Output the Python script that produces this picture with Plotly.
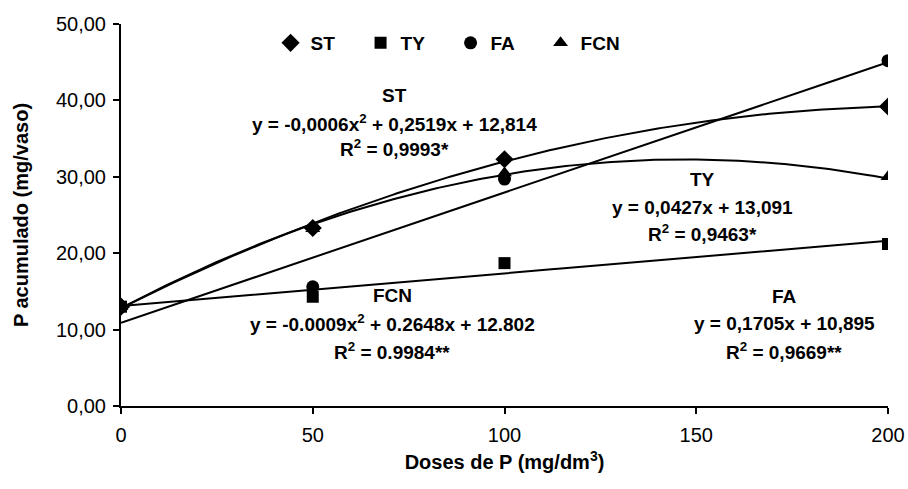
import numpy as np
import plotly.graph_objects as go

# ---- data ----
doses = [0, 50, 100, 200]
st_vals = [13.0, 23.3, 32.3, 39.2]
ty_vals = [13.0, 14.3, 18.7, 21.2]
fa_vals = [13.0, 15.6, 29.7, 45.2]
fcn_vals = [13.0, 23.2, 30.5, 30.0]

# trendline coefficients as printed on the chart (a*x^2 + b*x + c)
st_coef = [-0.0006, 0.2519, 12.814]
ty_coef = [0.0, 0.0427, 13.091]
fa_coef = [0.0, 0.1705, 10.895]
fcn_coef = [-0.0009, 0.2648, 12.802]

x_ticks = [0, 50, 100, 150, 200]
y_ticks = [0, 10, 20, 30, 40, 50]
y_ticktext = ["0,00", "10,00", "20,00", "30,00", "40,00", "50,00"]

FONT = "Liberation Sans, Arial, sans-serif"

fig = go.Figure()

xs = np.linspace(0, 200, 201)
for coef in [st_coef, ty_coef, fa_coef, fcn_coef]:
    ys = np.polyval(coef, xs)
    fig.add_trace(go.Scatter(x=xs, y=ys, mode="lines",
                             line=dict(color="black", width=2),
                             showlegend=False, hoverinfo="skip"))

series = [("ST", st_vals, "diamond", 14), ("TY", ty_vals, "square", 12),
          ("FA", fa_vals, "circle", 13), ("FCN", fcn_vals, "triangle-up", 13)]
for name, vals, sym, sz in series:
    fig.add_trace(go.Scatter(x=doses, y=vals, mode="markers", name="<b>%s</b>" % name,
                             marker=dict(symbol=sym, color="black", size=sz,
                                         line=dict(width=0))))

def ann(x, y, text):
    fig.add_annotation(x=x, y=y, xref="x", yref="y", text=text, showarrow=False,
                       font=dict(family=FONT, size=19, color="black"),
                       xanchor="center", yanchor="middle")

# ST block
ann(71.4, 40.6, "<b>ST</b>")
ann(71.4, 37.1, "<b>y = -0,0006x<sup>2</sup> + 0,2519x + 12,814</b>")
ann(71.4, 33.8, "<b>R<sup>2</sup> = 0,9993*</b>")
# TY block
ann(151.5, 29.6, "<b>TY</b>")
ann(151.5, 26.0, "<b>y = 0,0427x + 13,091</b>")
ann(151.5, 22.6, "<b>R<sup>2</sup> = 0,9463*</b>")
# FCN block
ann(70.7, 14.4, "<b>FCN</b>")
ann(70.7, 10.8, "<b>y = -0.0009x<sup>2</sup> + 0.2648x + 12.802</b>")
ann(70.7, 7.2, "<b>R<sup>2</sup> = 0.9984**</b>")
# FA block
ann(173, 14.3, "<b>FA</b>")
ann(173, 10.8, "<b>y = 0,1705x + 10,895</b>")
ann(173, 7.2, "<b>R<sup>2</sup> = 0,9669**</b>")

fig.update_layout(
    width=908, height=489,
    margin=dict(l=121, r=20, t=24, b=83),
    paper_bgcolor="white", plot_bgcolor="white",
    font=dict(family=FONT, color="black"),
    legend=dict(orientation="h", x=0.195, y=1.0, xanchor="left", yanchor="top",
                font=dict(family=FONT, size=19, color="black"),
                itemwidth=30, entrywidth=45, entrywidthmode="pixels",
                bgcolor="rgba(0,0,0,0)", tracegroupgap=0),
    xaxis=dict(range=[0, 200], tickvals=x_ticks, ticktext=[str(v) for v in x_ticks],
               showgrid=False, zeroline=False, showline=True, linecolor="black",
               linewidth=2, ticks="outside", ticklen=6, tickcolor="black",
               tickwidth=1.5, ticklabelstandoff=4, automargin=False,
               tickfont=dict(family=FONT, size=20),
               title=dict(text="<b>Doses de P (mg/dm<sup>3</sup>)</b>",
                          font=dict(family=FONT, size=20), standoff=10)),
    yaxis=dict(range=[0, 50], tickvals=y_ticks, ticktext=y_ticktext,
               showgrid=False, zeroline=False, showline=True, linecolor="black",
               linewidth=2, ticks="outside", ticklen=6, tickcolor="black",
               tickwidth=1.5, ticklabelstandoff=3, automargin=False,
               tickfont=dict(family=FONT, size=20),
               title=dict(text="<b>P acumulado (mg/vaso)</b>",
                          font=dict(family=FONT, size=20), standoff=22)),
)

fig.write_html(
    "out.html",
    config={"displayModeBar": False},
    post_script="document.body.style.margin='0';"
                "document.documentElement.style.overflow='hidden';",
)
